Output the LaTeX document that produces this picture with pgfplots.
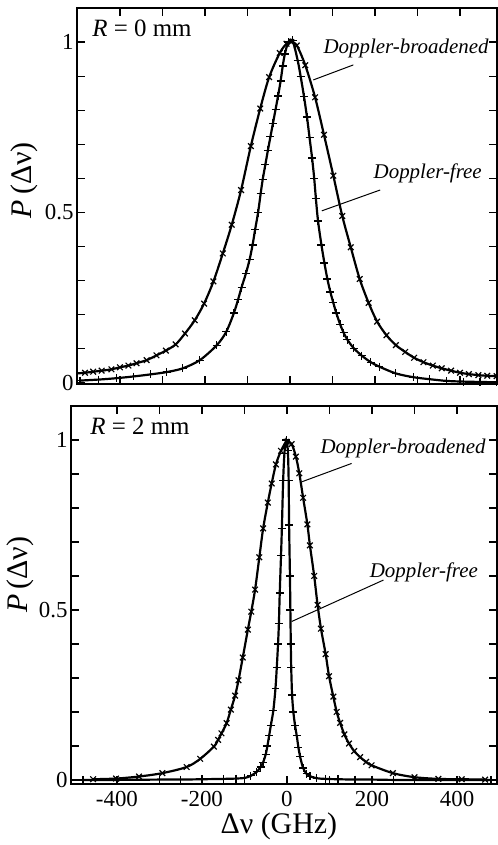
\documentclass[border=0pt]{standalone}
\usepackage{fontspec}
\setmainfont{Liberation Serif}
\usepackage{pgfplots}
\usepackage{pgfplotstable}
\pgfplotsset{compat=1.18}

% R = 0 mm, Doppler-broadened profile
\pgfplotstableread{
x y
-502 0.028
-482 0.030
-463 0.033
-443 0.036
-420 0.040
-400 0.046
-380 0.051
-361 0.058
-337 0.067
-314 0.081
-292 0.095
-269 0.113
-247 0.145
-224 0.184
-202 0.233
-180 0.298
-158 0.380
-137 0.464
-115 0.566
-92 0.695
-70 0.805
-49 0.897
-24 0.968
-8 0.995
3 1.000
16 0.990
36 0.932
59 0.838
80 0.728
102 0.608
123 0.490
143 0.398
164 0.305
185 0.235
205 0.180
227 0.140
249 0.111
271 0.091
292 0.074
314 0.061
336 0.051
357 0.043
379 0.036
400 0.030
421 0.026
443 0.023
464 0.021
486 0.020
}\topbroad

% R = 0 mm, Doppler-free profile
\pgfplotstableread{
x y
-494 0.007
-450 0.010
-408 0.014
-369 0.019
-329 0.025
-290 0.032
-252 0.043
-212 0.067
-172 0.111
-150 0.150
-132 0.205
-122 0.245
-114 0.280
-104 0.320
-95 0.362
-88 0.405
-82 0.450
-75 0.500
-69 0.555
-64 0.598
-58 0.640
-52 0.682
-46 0.722
-40 0.762
-34 0.802
-28 0.842
-22 0.886
-17 0.930
-12 0.965
-4 1.000
6 1.005
18 0.947
25 0.900
33 0.840
40 0.780
46 0.720
52 0.660
57 0.600
61 0.540
66 0.475
74 0.405
81 0.352
88 0.305
95 0.267
102 0.235
109 0.205
118 0.172
126 0.148
135 0.127
150 0.102
169 0.080
190 0.061
210 0.048
249 0.028
290 0.017
329 0.011
369 0.006
408 0.004
447 0.003
486 0.002
}\topfree

% R = 2 mm, Doppler-broadened profile
\pgfplotstableread{
x y
-456 0.002
-402 0.004
-348 0.010
-293 0.020
-236 0.038
-204 0.062
-172 0.098
-162 0.118
-154 0.137
-142 0.167
-132 0.207
-122 0.248
-114 0.293
-104 0.360
-92 0.442
-84 0.495
-75 0.560
-65 0.655
-56 0.740
-45 0.816
-36 0.872
-26 0.928
-14 0.968
-1 0.995
11 0.988
21 0.951
29 0.902
38 0.830
48 0.752
54 0.690
64 0.600
72 0.515
80 0.445
91 0.370
99 0.305
109 0.245
117 0.200
125 0.168
135 0.134
146 0.107
158 0.085
172 0.067
186 0.053
199 0.043
249 0.020
300 0.008
356 0.003
411 0.002
466 0.001
}\botbroad

% R = 2 mm, Doppler-free profile
\pgfplotstableread{
x y
-480 0.000
-400 0.000
-300 0.001
-250 0.001
-200 0.002
-150 0.003
-120 0.004
-99 0.006
-85 0.012
-71 0.024
-62 0.038
-56 0.052
-50 0.075
-46 0.100
-42 0.130
-38 0.160
-32 0.205
-27 0.270
-24 0.330
-21 0.400
-19 0.460
-17 0.550
-14 0.660
-12 0.740
-9 0.880
-6 0.960
-2 1.000
2 0.970
4 0.880
5 0.750
7 0.600
8 0.500
9 0.400
10 0.330
12 0.250
15 0.200
19 0.160
23 0.130
27 0.095
31 0.068
38 0.035
46 0.018
54 0.011
70 0.005
90 0.003
120 0.002
160 0.001
200 0.001
250 0.000
300 0.000
480 0.000
}\botfree

\pgfplotsset{
  panel/.style={
    scale only axis,
    axis line style={line width=0.9pt},
    every tick/.style={line width=0.6pt, black},
    major tick length=4bp,
    minor tick length=4bp,
    tick align=inside,
    ytick={0,0.5,1},
    yticklabels={0,0.5,1},
    minor ytick={0.1,0.2,0.3,0.4,0.6,0.7,0.8,0.9},
    xtick={-400,-200,0,200,400},
    minor xtick={-300,-100,100,300},
    ticklabel style={font=\fontsize{11.5}{13}\selectfont},
    yticklabel style={inner xsep=1.5bp},
    ylabel={\textit{P}\,(Δν)},
    ylabel style={font=\fontsize{15}{17}\selectfont, anchor=base},
  },
  curve/.style={line width=1.1pt, black, smooth, tension=0.5,
    mark size=2pt, mark options={line width=0.6pt, solid}},
}
\tikzset{
  note/.style={font=\fontsize{10.5}{12}\selectfont\itshape, anchor=center, inner sep=0pt},
  tag/.style={font=\fontsize{12.5}{14}\selectfont, anchor=north west, inner sep=0pt},
}

\begin{document}
\begin{tikzpicture}
\useasboundingbox (0,0) rectangle (249bp,422.5bp);

% upper panel: R = 0 mm
\begin{axis}[panel,
  at={(38.5bp,230.5bp)}, anchor=south west,
  width=210bp, height=188bp,
  xmin=-501, xmax=487, ymin=-0.003, ymax=1.1,
  xticklabels={},
  ylabel style={at={(axis description cs:-0.108,0.542)}},
]
\addplot[curve, mark=x] table {\topbroad};
\addplot[curve, mark=+] table {\topfree};
\node[tag, xshift=7.5bp, yshift=-6bp] at (rel axis cs:0,1) {\textit{R} = 0 mm};
\node[note] at (axis cs:273,0.982) {Doppler-broadened};
\draw[line width=0.5pt] (axis cs:55,0.889) -- (axis cs:149,0.933);
\node[note] at (axis cs:324,0.616) {Doppler-free};
\draw[line width=0.5pt] (axis cs:75,0.505) -- (axis cs:212,0.566);
\end{axis}

% lower panel: R = 2 mm
\begin{axis}[panel,
  at={(35.5bp,30.5bp)}, anchor=south west,
  width=213bp, height=189bp,
  xmin=-508, xmax=494, ymin=-0.012, ymax=1.1,
  xticklabels={-400,-200,0,200,400},
  xlabel={Δν (GHz)},
  xlabel style={at={(axis description cs:0.488,-0.111)}, anchor=center,
    font=\fontsize{15}{17}\selectfont},
  ylabel style={at={(axis description cs:-0.102,0.554)}},
]
\addplot[curve, mark=x] table {\botbroad};
\addplot[curve, mark=+] table {\botfree};
\node[tag, xshift=9.5bp, yshift=-6bp] at (rel axis cs:0,1) {\textit{R} = 2 mm};
\node[note] at (axis cs:273,0.976) {Doppler-broadened};
\draw[line width=0.5pt] (axis cs:35,0.877) -- (axis cs:152,0.931);
\node[note] at (axis cs:322,0.612) {Doppler-free};
\draw[line width=0.5pt] (axis cs:11,0.466) -- (axis cs:227,0.588);
\end{axis}
\end{tikzpicture}
\end{document}
